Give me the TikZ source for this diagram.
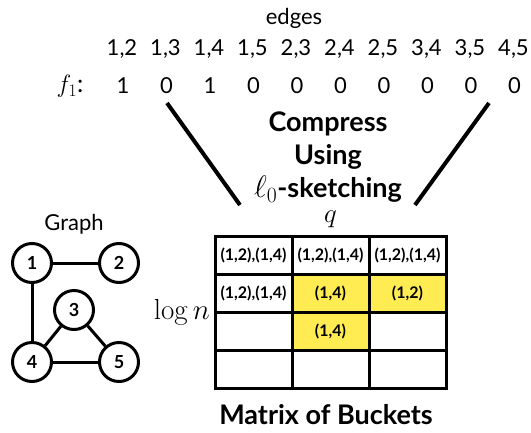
\RequirePackage{fix-cm}
\documentclass[tikz,border=0pt]{standalone}
\usepackage[no-math]{fontspec}
\setmainfont{Lato}
\usepackage{amsmath}
\usepackage{tikz}
\usetikzlibrary{positioning}
\definecolor{bucketyellow}{RGB}{254,236,82}

\begin{document}
\begin{tikzpicture}[
    x=1pt, y=-1pt,
    node distance=0pt,
    label/.style={inner sep=0pt, font=\fontsize{22}{25}\selectfont},
    heading/.style={inner sep=0pt, font=\fontsize{27}{33}\selectfont\bfseries, align=center},
    vertex/.style={draw, circle, line width=3pt, minimum size=39pt, inner sep=0pt, font=\fontsize{18}{20}\selectfont\bfseries},
    bucket/.style={draw, rectangle, line width=3pt, minimum width=77pt, minimum height=38pt, inner sep=0pt, outer sep=0pt, font=\fontsize{16}{18}\selectfont\bfseries},
    hit/.style={bucket, fill=bucketyellow},
    link/.style={line width=3pt}
]
    \useasboundingbox (0,0) rectangle (531,432);

    % Edge vector at the top
    \node [label] (edges) at (294,18) {edges};
    \node [label] (e12) at (122,49) {1,2};
    \node [label] (e13) at (165.5,49) {1,3};
    \node [label] (e14) at (209,49) {1,4};
    \node [label] (e15) at (252.5,49) {1,5};
    \node [label] (e23) at (296,49) {2,3};
    \node [label] (e24) at (339.5,49) {2,4};
    \node [label] (e25) at (383,49) {2,5};
    \node [label] (e34) at (426.5,49) {3,4};
    \node [label] (e35) at (470,49) {3,5};
    \node [label] (e45) at (513.5,49) {4,5};

    \node [label, font=\fontsize{25}{28}\selectfont] (f) at (70,86) {$f_1$:};
    \node [label] (v12) at (123,86) {1};
    \node [label] (v13) at (166.5,86) {0};
    \node [label] (v14) at (210,86) {1};
    \node [label] (v15) at (253.5,86) {0};
    \node [label] (v23) at (297,86) {0};
    \node [label] (v24) at (340.5,86) {0};
    \node [label] (v25) at (384,86) {0};
    \node [label] (v34) at (427.5,86) {0};
    \node [label] (v35) at (471,86) {0};
    \node [label] (v45) at (514.5,86) {0};

    % Funnel into the sketch
    \coordinate (ltop) at (167,103);
    \coordinate (lbot) at (240,205);
    \coordinate (rtop) at (489,103);
    \coordinate (rbot) at (415,205);
    \draw [link, line width=4pt] (ltop) -- (lbot);
    \draw [link, line width=4pt] (rtop) -- (rbot);
    \node [heading] (sketch) at (328,157) {Compress\\Using\\{\fontsize{31}{33}\selectfont$\ell_0$}-sketching};

    % Matrix of buckets (rows from top)
    \node [bucket] (c11) at (253.5,255) {(1,2),(1,4)};
    \node [bucket, right=of c11] (c12) {(1,2),(1,4)};
    \node [bucket, right=of c12] (c13) {(1,2),(1,4)};
    \node [bucket, below=of c11] (c21) {(1,2),(1,4)};
    \node [hit, right=of c21] (c22) {(1,4)};
    \node [hit, right=of c22] (c23) {(1,2)};
    \node [bucket, below=of c21] (c31) {};
    \node [hit, right=of c31] (c32) {(1,4)};
    \node [bucket, right=of c32] (c33) {};
    \node [bucket, below=of c31] (c41) {};
    \node [bucket, right=of c41] (c42) {};
    \node [bucket, right=of c42] (c43) {};

    \node [inner sep=0pt, font=\fontsize{27}{30}\selectfont, above=8pt of c12] (q) {$q$};
    \node [inner sep=0pt, font=\fontsize{29}{30}\selectfont, anchor=east] (logn) at ([xshift=-5pt]c21.south west) {$\log n$};
    \node [heading] (buckets) at (326,415) {Matrix of Buckets};

    % The graph
    \node [label] (graph) at (74,224) {Graph};
    \node [vertex] (n1) at (32,263) {1};
    \node [vertex] (n2) at (119,263) {2};
    \node [vertex] (n3) at (74,310) {3};
    \node [vertex] (n4) at (32,362) {4};
    \node [vertex] (n5) at (119,362) {5};
    \draw [link] (n1) -- (n2);
    \draw [link] (n1) -- (n4);
    \draw [link] (n3) -- (n4);
    \draw [link] (n3) -- (n5);
    \draw [link] (n4) -- (n5);

\end{tikzpicture}
\end{document}
